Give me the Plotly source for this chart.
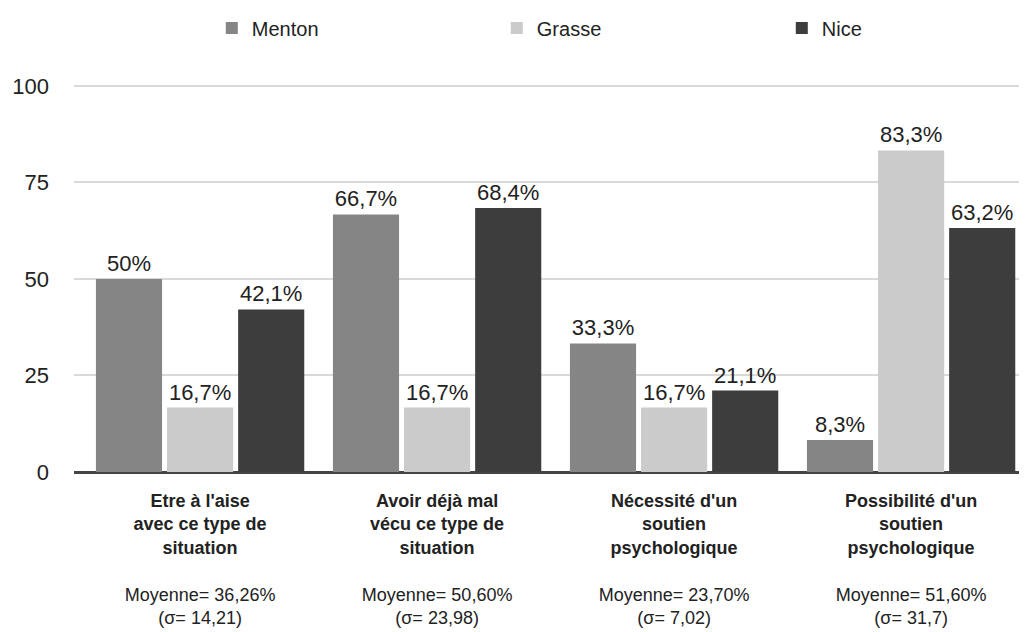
import plotly.graph_objects as go

categories = ["Etre à l'aise|avec ce type de|situation",
              "Avoir déjà mal|vécu ce type de|situation",
              "Nécessité d'un|soutien|psychologique",
              "Possibilité d'un|soutien|psychologique"]
moyennes = ["Moyenne= 36,26%", "Moyenne= 50,60%", "Moyenne= 23,70%", "Moyenne= 51,60%"]
sigmas = ["(σ= 14,21)", "(σ= 23,98)", "(σ= 7,02)", "(σ= 31,7)"]

menton = [50, 66.7, 33.3, 8.3]
grasse = [16.7, 16.7, 16.7, 83.3]
nice = [42.1, 68.4, 21.1, 63.2]

series = [("Menton", menton, "#858585"),
          ("Grasse", grasse, "#cbcbcb"),
          ("Nice", nice, "#3d3d3d")]

def fmt(v):
    s = ("%.1f" % v).rstrip("0").rstrip(".")
    return s.replace(".", ",") + "%"

ticktext = []
for c, m, s in zip(categories, moyennes, sigmas):
    lines = ["<b>%s</b>" % l for l in c.split("|")]
    ticktext.append("<br>".join(lines) + "<br><br>" + m + "<br>" + s)

fig = go.Figure()
for name, vals, col in series:
    fig.add_trace(go.Bar(
        x=list(range(len(categories))), y=vals, name=name,
        marker_color=col, marker_line_width=0,
        text=[fmt(v) for v in vals], textposition="outside",
        textangle=0, constraintext="none", cliponaxis=False,
        textfont=dict(size=22, color="#222222", family="Liberation Sans, Arial"),
    ))

# page body has an 8px margin, so the figure is sized to fit the window
fig.update_layout(
    width=1019, height=624,
    paper_bgcolor="white", plot_bgcolor="white",
    font=dict(family="Liberation Sans, Arial", color="#222222"),
    barmode="group", bargap=0.1, bargroupgap=0.07,
    margin=dict(l=66, r=0, t=76, b=160),
    showlegend=True,
    legend=dict(orientation="h", xanchor="left", xref="container", x=0.2,
                yref="container", y=0.968, yanchor="middle",
                font=dict(size=20), entrywidth=240, itemclick=False),
)
fig.update_xaxes(
    tickvals=list(range(len(categories))), ticktext=ticktext,
    tickfont=dict(size=18, color="#222222"), showgrid=False,
    showline=False, ticks="", range=[-0.532, 3.489],
    automargin=False, ticklabelstandoff=16,
)
fig.update_yaxes(
    range=[0, 100.5], tickvals=[0, 25, 50, 75, 100],
    tickfont=dict(size=22, color="#222222"),
    gridcolor="#d9d9d9", gridwidth=1.5,
    zeroline=True, zerolinecolor="#444444", zerolinewidth=2.5,
    showline=False, ticks="", ticklabelstandoff=24, automargin=False,
)

fig.write_html("out.html")
